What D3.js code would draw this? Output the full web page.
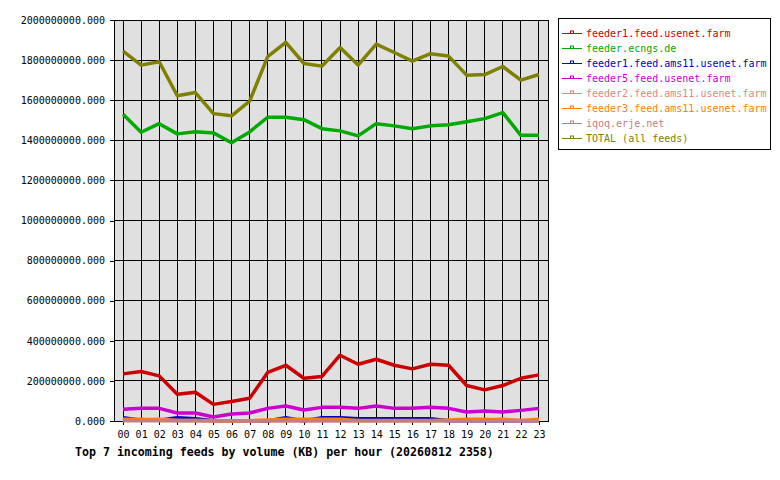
<!DOCTYPE html>
<html>
<head>
<meta charset="utf-8">
<script src="https://cdn.jsdelivr.net/npm/d3@7"></script>
<style>
  body { margin: 0; background: #fff; }
  text { font-family: "DejaVu Sans Mono", monospace; }
</style>
</head>
<body>
<div id="chart"></div>
<script>
// hours of the day
var hours = ["00","01","02","03","04","05","06","07","08","09","10","11",
    "12","13","14","15","16","17","18","19","20","21","22","23"];

// KB per hour
var feeder1Usenet = [235e6,247e6,225e6,133e6,143e6,83e6,97e6,113e6,242e6,278e6,213e6,222e6,
    328e6,283e6,308e6,278e6,260e6,283e6,278e6,177e6,155e6,177e6,213e6,230e6];
var feederEcngs = [1530e6,1440e6,1483e6,1432e6,1443e6,1437e6,1388e6,1442e6,1515e6,1515e6,1503e6,1458e6,
    1447e6,1422e6,1483e6,1472e6,1458e6,1472e6,1478e6,1492e6,1508e6,1538e6,1425e6,1425e6];
var feeder1Ams11 = [16e6,4e6,4e6,16e6,11e6,1e6,1e6,1e6,0,16e6,0,16e6,
    16e6,11e6,11e6,11e6,11e6,11e6,1e6,1e6,1e6,1e6,1e6,1e6];
var feeder5Usenet = [58e6,63e6,63e6,40e6,40e6,20e6,35e6,40e6,63e6,75e6,55e6,68e6,
    68e6,63e6,75e6,63e6,63e6,68e6,63e6,45e6,50e6,45e6,53e6,63e6];
var feeder2Ams11 = [5e6,5e6,10e6,3e6,2e6,1e6,1e6,1e6,1e6,1e6,1e6,1e6,
    1e6,1e6,1e6,1e6,1e6,1e6,1e6,3e6,5e6,10e6,2e6,1e6];
var feeder3Ams11 = [9e6,9e6,4e6,3e6,2e6,1e6,1e6,1e6,5e6,9e6,9e6,9e6,
    9e6,2e6,2e6,2e6,2e6,2e6,5e6,9e6,9e6,4e6,2e6,9e6];
var iqoq = [1e6,1e6,1e6,1e6,1e6,1e6,1e6,1e6,1e6,1e6,1e6,1e6,
    1e6,1e6,1e6,1e6,1e6,1e6,1e6,1e6,1e6,1e6,1e6,1e6];
var total = [1845e6,1775e6,1792e6,1622e6,1638e6,1533e6,1522e6,1595e6,1817e6,1888e6,1783e6,1770e6,
    1863e6,1775e6,1880e6,1838e6,1795e6,1832e6,1820e6,1725e6,1728e6,1768e6,1700e6,1728e6];

var yTicks = [0,200e6,400e6,600e6,800e6,1000e6,1200e6,1400e6,1600e6,1800e6,2000e6];

var seriesNames = ["feeder1.feed.usenet.farm","feeder.ecngs.de","feeder1.feed.ams11.usenet.farm",
    "feeder5.feed.usenet.farm","feeder2.feed.ams11.usenet.farm","feeder3.feed.ams11.usenet.farm",
    "iqoq.erje.net","TOTAL (all feeds)"];
var seriesValues = [feeder1Usenet, feederEcngs, feeder1Ams11, feeder5Usenet,
    feeder2Ams11, feeder3Ams11, iqoq, total];
var colors = ["#cc0000","#00aa00","#0000cc","#cc00cc","#f08080","#ff8000","#c08080","#808000"];

var width = 780, height = 480;
var plotLeft = 114, plotRight = 548, plotTop = 20, plotBottom = 421;

var svg = d3.select("#chart").append("svg")
    .attr("width", width)
    .attr("height", height);

svg.append("rect").attr("width", width).attr("height", height).attr("fill", "#fff");

var xScale = d3.scaleLinear()
    .domain([-0.5, 23.5])
    .range([plotLeft, plotRight]);

var yScale = d3.scaleLinear()
    .domain([0, 2000e6])
    .range([plotBottom, plotTop]);

// plot background
svg.append("rect")
    .attr("x", plotLeft).attr("y", plotTop)
    .attr("width", plotRight - plotLeft).attr("height", plotBottom - plotTop)
    .attr("fill", "#e0e0e0");

// grid
var grid = svg.append("g").attr("stroke", "#000").attr("shape-rendering", "crispEdges");
grid.selectAll(".hg").data(yTicks).enter().append("line")
    .attr("x1", plotLeft).attr("x2", plotRight)
    .attr("y1", function (d) { return yScale(d); })
    .attr("y2", function (d) { return yScale(d); });
grid.selectAll(".vg").data(hours).enter().append("line")
    .attr("x1", function (d, i) { return xScale(i); })
    .attr("x2", function (d, i) { return xScale(i); })
    .attr("y1", plotTop).attr("y2", plotBottom);

// axes
var yAxis = d3.axisLeft(yScale)
    .tickValues(yTicks)
    .tickSize(4)
    .tickPadding(5)
    .tickFormat(d3.format(".3f"));
var gy = svg.append("g").attr("transform", "translate(" + plotLeft + ",0)").call(yAxis);

var xAxis = d3.axisBottom(d3.scaleLinear().domain([0, 23]).range([xScale(0), xScale(23)]))
    .tickValues(d3.range(hours.length))
    .tickSize(4)
    .tickPadding(6)
    .tickFormat(function (i) { return hours[i]; });
var gx = svg.append("g").attr("transform", "translate(0," + plotBottom + ")").call(xAxis);

[gy, gx].forEach(function (g) {
    g.select(".domain").remove();
    g.selectAll("line").attr("stroke", "#000").attr("shape-rendering", "crispEdges");
    g.selectAll("text").attr("font-size", 10).attr("fill", "#000")
        .attr("font-family", "DejaVu Sans Mono");
});

// frame
svg.append("rect")
    .attr("x", plotLeft).attr("y", plotTop)
    .attr("width", plotRight - plotLeft).attr("height", plotBottom - plotTop)
    .attr("fill", "none").attr("stroke", "#000").attr("shape-rendering", "crispEdges");

// data lines
var line = d3.line()
    .x(function (d, i) { return xScale(i); })
    .y(function (d) { return yScale(d); });

svg.selectAll(".series").data(seriesValues).enter().append("path")
    .attr("d", line)
    .attr("fill", "none")
    .attr("stroke", function (d, i) { return colors[i]; })
    .attr("stroke-width", 3.5)
    .attr("stroke-linejoin", "round");

// title
svg.append("text")
    .attr("x", 75).attr("y", 456)
    .attr("font-size", 11.6).attr("font-weight", "bold")
    .text("Top 7 incoming feeds by volume (KB) per hour (20260812 2358)");

// legend
var legend = svg.append("g");
legend.append("rect")
    .attr("x", 558.5).attr("y", 18.5)
    .attr("width", 212).attr("height", 131)
    .attr("fill", "#fff").attr("stroke", "#000");

var item = legend.selectAll(".item").data(seriesNames).enter().append("g")
    .attr("transform", function (d, i) { return "translate(0," + (33.5 + i * 15) + ")"; });
item.append("line")
    .attr("x1", 562).attr("x2", 582)
    .attr("stroke", function (d, i) { return colors[i]; })
    .attr("stroke-width", 1);
item.append("rect")
    .attr("x", 570.5).attr("y", -2.5).attr("width", 3).attr("height", 2.5)
    .attr("fill", "none")
    .attr("stroke", function (d, i) { return colors[i]; });
item.append("text")
    .attr("x", 586).attr("y", 3.5)
    .attr("font-size", 10)
    .attr("fill", function (d, i) { return colors[i]; })
    .text(function (d) { return d; });
</script>
</body>
</html>
